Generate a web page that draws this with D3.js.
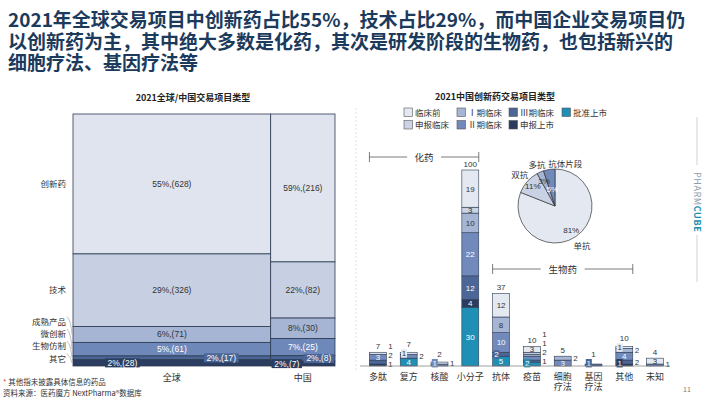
<!DOCTYPE html>
<html>
<head>
<meta charset="utf-8">
<title>2021全球/中国交易项目类型</title>
<script src="https://d3js.org/d3.v7.min.js"></script>
<style>
  body { margin: 0; background: #fff; }
  svg { display: block; font-family: "Noto Sans CJK SC", "Noto Sans", sans-serif; }
  .num { font-family: "Liberation Sans", Arial, sans-serif; }
</style>
</head>
<body>
<svg id="chart" width="710" height="399"></svg>
<script>
// ---- data ----
var titleLines = [
  "2021年全球交易项目中创新药占比55%，技术占比29%，而中国企业交易项目仍",
  "以创新药为主，其中绝大多数是化药，其次是研发阶段的生物药，也包括新兴的",
  "细胞疗法、基因疗法等"
];

// left: mekko
var columns = ["全球", "中国"];
var types = ["创新药", "技术", "成熟产品", "微创新", "生物仿制", "其它"];
var globalCounts = [628, 326, 71, 61, 17, 28];
var chinaCounts = [216, 82, 30, 25, 8, 7];
var globalPct = ["55%", "29%", "6%", "5%", "2%", "2%"];
var chinaPct = ["59%", "22%", "8%", "7%", "2%", "2%"];
var typeColors = ["#dfe4ee", "#c6d0e2", "#a5b5d3", "#6f88ba", "#4a6596", "#2b3d60"];

// right: stacked bars
var cats = ["多肽", "复方", "核酸", "小分子", "抗体", "疫苗", "细胞疗法", "基因疗法", "其他", "未知"];
var stages = ["批准上市", "申报上市", "Ⅲ期临床", "Ⅱ期临床", "Ⅰ期临床", "申报临床", "临床前"]; // bottom -> top
var approved   = [0, 4, 0, 30, 5, 2, 0, 0, 0, 0];
var filedNDA   = [1, 0, 0, 4, 0, 0, 0, 0, 1, 0];
var phase3     = [2, 0, 0, 12, 2, 1, 0, 1, 2, 0];
var phase2     = [3, 2, 1, 22, 10, 2, 3, 0, 4, 1];
var phase1     = [0, 0, 0, 10, 8, 1, 2, 0, 2, 0];
var filedIND   = [0, 0, 0, 3, 0, 1, 0, 0, 0, 0];
var preclin    = [1, 1, 1, 19, 12, 3, 0, 0, 1, 3];
var stageColors = ["#1f8fb5", "#2b3c5e", "#4c6797", "#7189bb", "#a6b5d3", "#cbd3e5", "#e3e8f1"];
var legendOrder = ["临床前", "申报临床", "Ⅰ期临床", "Ⅱ期临床", "Ⅲ期临床", "申报上市", "批准上市"];

var groups = [
  { name: "化药", from: "多肽", to: "小分子" },
  { name: "生物药", from: "抗体", to: "其他" }
];

// pie
var abTypes = ["单抗", "双抗", "多抗", "抗体片段"];
var abShare = [81, 11, 3, 5];
var abColors = ["#e3e8f1", "#c9d2e4", "#a6b5d3", "#7189bb"];

var svg = d3.select("#chart");

// ---- title ----
svg.append("text")
  .attr("font-size", 19)
  .attr("font-weight", "bold")
  .attr("fill", "#1b3a5c")
  .selectAll("tspan").data(titleLines).enter().append("tspan")
  .attr("x", 8)
  .attr("y", function(d, i) { return 27 + i * 21.5; })
  .text(function(d) { return d; });

// ---- left: mekko chart ----
var left = svg.append("g");
left.append("text").attr("x", 193).attr("y", 101).attr("text-anchor", "middle")
  .attr("font-size", 9).attr("font-weight", "bold").attr("fill", "#222")
  .text("2021全球/中国交易项目类型");

var colData = [
  { name: columns[0], counts: globalCounts, pct: globalPct },
  { name: columns[1], counts: chinaCounts, pct: chinaPct }
];
var grand = 0;
colData.forEach(function(c) { c.total = d3.sum(c.counts); c.x0 = grand; grand += c.total; });

var xM = d3.scaleLinear().domain([0, grand]).range([73, 335]);
var topY = 114, botY = 366;

colData.forEach(function(c) {
  var yM = d3.scaleLinear().domain([0, c.total]).range([topY, botY]);
  var cum = 0;
  var x0 = xM(c.x0), x1 = xM(c.x0 + c.total);
  c.segs = c.counts.map(function(v, i) {
    var s = { i: i, v: v, y0: yM(cum), y1: yM(cum + v), pct: c.pct[i] };
    cum += v;
    return s;
  });
  var g = left.append("g");
  g.selectAll("rect").data(c.segs).enter().append("rect")
    .attr("x", x0).attr("width", x1 - x0)
    .attr("y", function(d) { return d.y0; })
    .attr("height", function(d) { return d.y1 - d.y0; })
    .attr("fill", function(d) { return typeColors[d.i]; })
    .attr("stroke", "#2d3b52").attr("stroke-width", 0.8);

  c.segs.forEach(function(s) {
    var h = s.y1 - s.y0;
    var label = s.pct + ",(" + s.v + ")";
    var cy = (s.y0 + s.y1) / 2;
    var tx = (x0 + x1) / 2;
    var dark = s.i >= 3;
    if (h < 8) {
      // small slices: boxed label, staggered left / right
      tx = x0 + (x1 - x0) * (s.i === 4 ? 0.75 : 0.25);
      var w = label.length * 4.4 + 4;
      g.append("rect").attr("x", tx - w / 2).attr("y", cy - 4.5)
        .attr("width", w).attr("height", 9)
        .attr("fill", typeColors[s.i]);
    }
    g.append("text").attr("class", "num").attr("x", tx).attr("y", cy + 3)
      .attr("text-anchor", "middle").attr("font-size", 8.5)
      .attr("fill", dark ? "#fff" : "#333")
      .text(label);
  });

  left.append("text").attr("x", (x0 + x1) / 2).attr("y", 381)
    .attr("text-anchor", "middle").attr("font-size", 9).attr("fill", "#333")
    .text(c.name);
});

// type labels along the left edge (from the global column)
var gSegs = colData[0].segs;
var labelY = [];
var prev = 361.5;
for (var i = gSegs.length - 1; i >= 0; i--) {
  var mid = (gSegs[i].y0 + gSegs[i].y1) / 2 + 3;
  var yy = Math.min(mid, prev);
  labelY[i] = yy;
  prev = yy - 12.3;
}
gSegs.forEach(function(s, i) {
  left.append("text").attr("x", 66).attr("y", labelY[i])
    .attr("text-anchor", "end").attr("font-size", 8.5).attr("fill", "#333")
    .text(types[i]);
  if (s.y1 - s.y0 < 30) {
    var m = (s.y0 + s.y1) / 2;
    left.append("path")
      .attr("d", "M67," + (labelY[i] - 8) + " Q71," + (labelY[i] - 4) + " 72," + m)
      .attr("fill", "none").attr("stroke", "#999").attr("stroke-width", 0.6);
  }
});

// footnotes
var foot = svg.append("text").attr("x", 3).attr("y", 385).attr("font-size", 7.5).attr("fill", "#333");
foot.append("tspan").attr("fill", "#c0392b").text("* ");
foot.append("tspan").text("其他指未披露具体信息的药品");
svg.append("text").attr("x", 3).attr("y", 396).attr("font-size", 7.5).attr("fill", "#333")
  .text("资料来源：医药魔方 NextPharma®数据库");

// separator
svg.append("line").attr("x1", 356).attr("x2", 356).attr("y1", 108).attr("y2", 372)
  .attr("stroke", "#d5d9de").attr("stroke-width", 0.8).attr("stroke-dasharray", "2,2");

// ---- right: stacked bars ----
var right = svg.append("g");
right.append("text").attr("x", 495).attr("y", 100).attr("text-anchor", "middle")
  .attr("font-size", 9).attr("font-weight", "bold").attr("fill", "#222")
  .text("2021中国创新药交易项目类型");

// legend
var legX = [404, 457, 509, 562];
legendOrder.forEach(function(name, k) {
  var col = Math.floor(k / 2), row = k % 2;
  var si = stages.indexOf(name);
  var lx = legX[col], ly = 108 + row * 12.5;
  right.append("rect").attr("x", lx).attr("y", ly).attr("width", 8.5).attr("height", 8.5)
    .attr("fill", stageColors[si]).attr("stroke", "#555").attr("stroke-width", 0.6);
  right.append("text").attr("x", lx + 11).attr("y", ly + 7.8)
    .attr("font-size", 8.5).attr("fill", "#333").text(name);
});

var series = [approved, filedNDA, phase3, phase2, phase1, filedIND, preclin];
var table = cats.map(function(c, j) {
  var row = { cat: c };
  stages.forEach(function(s, k) { row[s] = series[k][j]; });
  return row;
});
var stacked = d3.stack().keys(stages)(table);

var x = d3.scaleBand().domain(cats).range([362.5, 670.5]).paddingInner(0.45).paddingOuter(0.225);
var y = d3.scaleLinear().domain([0, 100]).range([366, 170]);

var bars = right.append("g");
stacked.forEach(function(layer, k) {
  bars.append("g").selectAll("rect")
    .data(layer.filter(function(d) { return d[1] > d[0]; }))
    .enter().append("rect")
    .attr("x", function(d) { return x(d.data.cat); })
    .attr("width", x.bandwidth())
    .attr("y", function(d) { return y(d[1]); })
    .attr("height", function(d) { return y(d[0]) - y(d[1]); })
    .attr("fill", stageColors[k])
    .attr("stroke", "#2d3b52").attr("stroke-width", 0.6);
});

// segment labels: big segments centred, small ones on a box inside-left or outside-right
var labels = right.append("g");
var step = 9;
cats.forEach(function(c, j) {
  var bx = x(c), bw = x.bandwidth();
  var segs = [];
  stacked.forEach(function(layer, k) {
    var d = layer[j];
    var v = d[1] - d[0];
    if (v > 0) segs.push({ k: k, v: v, base: (y(d[0]) + y(d[1])) / 2 + 3 });
  });
  var centers = segs.filter(function(s) { return s.v >= 3; });
  var topInside = 400;
  centers.forEach(function(s) {
    labels.append("text").attr("class", "num").attr("x", bx + bw / 2).attr("y", s.base)
      .attr("text-anchor", "middle").attr("font-size", 8)
      .attr("fill", s.k <= 3 ? "#fff" : "#333").text(s.v);
    topInside = Math.min(topInside, s.base);
  });
  var nextLeft = 366, nextRight = 367, lastSide = "right";
  segs.filter(function(s) { return s.v < 3; }).forEach(function(s) {
    var yl = Math.min(s.base, nextLeft);
    var clash = centers.some(function(cs) { return Math.abs(cs.base - yl) < 6.5; });
    if (lastSide === "right" && !clash) {
      labels.append("rect").attr("x", bx + 0.8).attr("y", yl - 7)
        .attr("width", 6).attr("height", 8.4).attr("fill", stageColors[s.k]);
      labels.append("text").attr("class", "num").attr("x", bx + 3.8).attr("y", yl)
        .attr("text-anchor", "middle").attr("font-size", 8)
        .attr("fill", s.k <= 3 ? "#fff" : "#333").text(s.v);
      nextLeft = yl - step;
      topInside = Math.min(topInside, yl);
      lastSide = "left";
    } else {
      var yr = Math.min(s.base, nextRight);
      labels.append("text").attr("class", "num").attr("x", bx + bw + 2).attr("y", yr)
        .attr("font-size", 8).attr("fill", "#333").text(s.v);
      nextRight = yr - step;
      lastSide = "right";
    }
  });
  var total = d3.sum(series, function(s) { return s[j]; });
  labels.append("text").attr("class", "num").attr("x", bx + bw / 2)
    .attr("y", Math.min(y(total) - 3, topInside - step))
    .attr("text-anchor", "middle").attr("font-size", 8).attr("fill", "#333").text(total);

  // category label, four-character names wrap onto two lines
  var lines = c.length === 4 ? [c.slice(0, 2), c.slice(2)] : [c];
  labels.append("text").attr("text-anchor", "middle").attr("font-size", 9).attr("fill", "#333")
    .selectAll("tspan").data(lines).enter().append("tspan")
    .attr("x", bx + bw / 2)
    .attr("y", function(t, li) { return 380 + li * 10; })
    .text(function(t) { return t; });
});

right.append("line").attr("x1", 360).attr("x2", 670).attr("y1", 366).attr("y2", 366)
  .attr("stroke", "#888").attr("stroke-width", 0.8);

// group brackets
var bracketY = [157, 269];
groups.forEach(function(gr, k) {
  var x0 = x(gr.from), x1 = x(gr.to) + x.bandwidth();
  var by = bracketY[k];
  var cx = (x0 + x1) / 2;
  var half = gr.name.length * 5 + 7;
  var bg = right.append("g").attr("stroke", "#444").attr("stroke-width", 0.7);
  bg.append("line").attr("x1", x0).attr("x2", cx - half).attr("y1", by).attr("y2", by);
  bg.append("line").attr("x1", cx + half).attr("x2", x1).attr("y1", by).attr("y2", by);
  bg.append("line").attr("x1", x0).attr("x2", x0).attr("y1", by - 5).attr("y2", by + 5);
  bg.append("line").attr("x1", x1).attr("x2", x1).attr("y1", by - 5).attr("y2", by + 5);
  right.append("text").attr("x", cx).attr("y", by + 3.5).attr("text-anchor", "middle")
    .attr("font-size", 9.5).attr("fill", "#333").text(gr.name);
});

// ---- pie ----
var pc = [555, 206], R = 37;
var pieG = right.append("g").attr("transform", "translate(" + pc[0] + "," + pc[1] + ")");
var arcs = d3.pie().sort(null)(abShare);
var arc = d3.arc().innerRadius(0).outerRadius(R);
pieG.selectAll("path").data(arcs).enter().append("path")
  .attr("d", arc)
  .attr("fill", function(d, i) { return abColors[i]; })
  .attr("stroke", "#333").attr("stroke-width", 0.7);

var inR = [0.78, 0.8, 0.74, 0.46];
var outR = [1.3, 1.27, 1.22, 1.16];
var outAnchor = ["middle", "middle", "middle", "start"];
arcs.forEach(function(d, i) {
  var a = (d.startAngle + d.endAngle) / 2;
  var ix = Math.sin(a) * R * inR[i], iy = -Math.cos(a) * R * inR[i];
  pieG.append("text").attr("class", "num").attr("x", ix).attr("y", iy + 3).attr("text-anchor", "middle")
    .attr("font-size", 8).attr("fill", i === 3 ? "#fff" : "#333").text(abShare[i] + "%");
  var ox = Math.sin(a) * R * outR[i], oy = -Math.cos(a) * R * outR[i];
  pieG.append("text").attr("x", ox).attr("y", oy + 3).attr("text-anchor", outAnchor[i])
    .attr("font-size", 8.5).attr("fill", "#333").text(abTypes[i]);
});

// ---- brand strip ----
svg.append("line").attr("x1", 697).attr("x2", 697).attr("y1", 117).attr("y2", 165)
  .attr("stroke", "#c8d3dc").attr("stroke-width", 1);
svg.append("line").attr("x1", 697).attr("x2", 697).attr("y1", 235).attr("y2", 282)
  .attr("stroke", "#c8d3dc").attr("stroke-width", 1);
var brand = svg.append("text").attr("transform", "translate(694,172) rotate(90)")
  .attr("font-size", 9).attr("letter-spacing", 0.6);
brand.append("tspan").attr("fill", "#8c9cab").text("PHARM");
brand.append("tspan").attr("fill", "#1c8fb0").attr("font-weight", "bold").text("CUBE");

svg.append("text").attr("x", 683).attr("y", 392).attr("font-size", 7).attr("fill", "#777").text("11");
</script>
</body>
</html>
